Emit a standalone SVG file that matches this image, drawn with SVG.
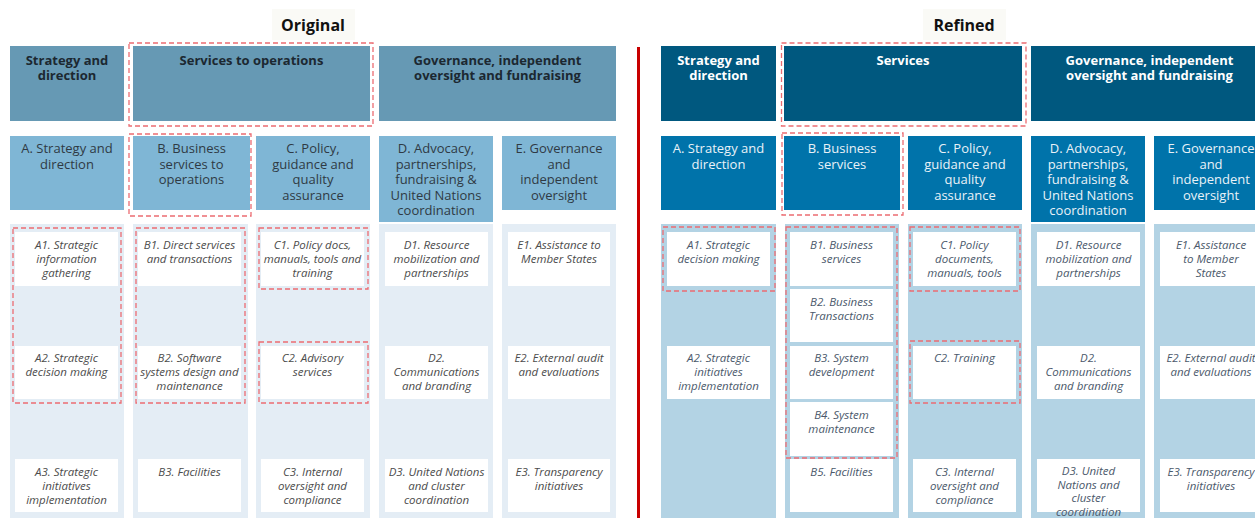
<svg xmlns="http://www.w3.org/2000/svg" width="1255" height="518" viewBox="0 0 1255 518">
<style>
text{font-family:"Open Sans","Noto Sans","Liberation Sans",sans-serif;text-anchor:middle}
.title{font-size:16px;font-weight:bold;fill:#111}
.hdrO{fill:#6699b4}
.rowO{fill:#7fb6d5}
.colO{fill:#e4edf5}
.hdrR{fill:#00587f}
.rowR{fill:#0073aa}
.colR{fill:#b3d3e4}
.item{fill:#ffffff}
.th{font-size:13px;font-weight:bold}
.thO{fill:#1c2831}
.thR{fill:#ffffff}
.tr{font-size:13px}
.trO{fill:#2f3a44}
.trR{fill:#e9f2f8}
.ti{font-size:11.5px;font-style:italic}
.tiO{fill:#4c4c4c}
.tiR{fill:#4b596b}
.dash{fill:none;stroke:#ec6c72;stroke-width:1.3;stroke-dasharray:5 3}
</style>
<rect width="1255" height="518" fill="#ffffff"/>
<g id="titles">
<rect x="272" y="9" width="83" height="31" fill="#fafaf6"/>
<text class="title" x="313" y="31">Original</text>
<rect x="923" y="9" width="83" height="31" fill="#fafaf6"/>
<text class="title" x="964" y="31">Refined</text>
</g>
<g id="divider"><rect x="637" y="47" width="3" height="471" fill="#c80000"/></g>

<!-- ORIGINAL -->
<g id="o-hdr-strategy"><rect class="hdrO" x="10" y="46" width="114" height="75"/><text class="th thO" x="67" y="65">Strategy and<tspan x="67" dy="15">direction</tspan></text></g>
<g id="o-hdr-services"><rect class="hdrO" x="133" y="46" width="237" height="75"/><text class="th thO" x="251.5" y="65">Services to operations</text></g>
<g id="o-hdr-gov"><rect class="hdrO" x="379" y="46" width="237" height="75"/><text class="th thO" x="497.5" y="65">Governance, independent<tspan x="497.5" dy="15">oversight and fundraising</tspan></text></g>

<g id="o-A"><rect class="rowO" x="10" y="136" width="114" height="74"/><text class="tr trO" x="67" y="153">A. Strategy and<tspan x="67" dy="15.5">direction</tspan></text></g>
<g id="o-B"><rect class="rowO" x="133" y="136" width="117" height="74"/><text class="tr trO" x="191.5" y="153">B. Business<tspan x="191.5" dy="15.5">services to</tspan><tspan x="191.5" dy="15.5">operations</tspan></text></g>
<g id="o-C"><rect class="rowO" x="256" y="136" width="114" height="74"/><text class="tr trO" x="313" y="153">C. Policy,<tspan x="313" dy="15.5">guidance and</tspan><tspan x="313" dy="15.5">quality</tspan><tspan x="313" dy="15.5">assurance</tspan></text></g>
<g id="o-D"><rect class="rowO" x="379" y="136" width="114" height="86"/><text class="tr trO" x="436" y="153">D. Advocacy,<tspan x="436" dy="15.5">partnerships,</tspan><tspan x="436" dy="15.5">fundraising &amp;</tspan><tspan x="436" dy="15.5">United Nations</tspan><tspan x="436" dy="15.5">coordination</tspan></text></g>
<g id="o-E"><rect class="rowO" x="502" y="136" width="114" height="74"/><text class="tr trO" x="559" y="153">E. Governance<tspan x="559" dy="15.5">and</tspan><tspan x="559" dy="15.5">independent</tspan><tspan x="559" dy="15.5">oversight</tspan></text></g>

<g id="o-colA"><rect class="colO" x="10" y="224" width="114" height="294"/>
<rect class="item" x="15" y="232" width="103" height="54"/><text class="ti tiO" x="66.5" y="249">A1. Strategic<tspan x="66.5" dy="14">information</tspan><tspan x="66.5" dy="14">gathering</tspan></text>
<rect class="item" x="15" y="346" width="103" height="53"/><text class="ti tiO" x="66.5" y="362">A2. Strategic<tspan x="66.5" dy="14">decision making</tspan></text>
<rect class="item" x="15" y="459" width="103" height="53"/><text class="ti tiO" x="66.5" y="476">A3. Strategic<tspan x="66.5" dy="14">initiatives</tspan><tspan x="66.5" dy="14">implementation</tspan></text></g>
<g id="o-colB"><rect class="colO" x="133" y="224" width="115" height="294"/>
<rect class="item" x="138" y="232" width="103" height="54"/><text class="ti tiO" x="189.5" y="249">B1. Direct services<tspan x="189.5" dy="14">and transactions</tspan></text>
<rect class="item" x="138" y="346" width="103" height="53"/><text class="ti tiO" x="189.5" y="362">B2. Software<tspan x="189.5" dy="14">systems design and</tspan><tspan x="189.5" dy="14">maintenance</tspan></text>
<rect class="item" x="138" y="459" width="103" height="53"/><text class="ti tiO" x="189.5" y="476">B3. Facilities</text></g>
<g id="o-colC"><rect class="colO" x="256" y="224" width="114" height="294"/>
<rect class="item" x="261" y="232" width="103" height="54"/><text class="ti tiO" x="312.5" y="249">C1. Policy docs,<tspan x="312.5" dy="14">manuals, tools and</tspan><tspan x="312.5" dy="14">training</tspan></text>
<rect class="item" x="261" y="346" width="103" height="53"/><text class="ti tiO" x="312.5" y="362">C2. Advisory<tspan x="312.5" dy="14">services</tspan></text>
<rect class="item" x="261" y="459" width="103" height="53"/><text class="ti tiO" x="312.5" y="476">C3. Internal<tspan x="312.5" dy="14">oversight and</tspan><tspan x="312.5" dy="14">compliance</tspan></text></g>
<g id="o-colD"><rect class="colO" x="379" y="224" width="114" height="294"/>
<rect class="item" x="385" y="232" width="103" height="54"/><text class="ti tiO" x="436.5" y="249">D1. Resource<tspan x="436.5" dy="14">mobilization and</tspan><tspan x="436.5" dy="14">partnerships</tspan></text>
<rect class="item" x="385" y="346" width="103" height="53"/><text class="ti tiO" x="436.5" y="362">D2.<tspan x="436.5" dy="14">Communications</tspan><tspan x="436.5" dy="14">and branding</tspan></text>
<rect class="item" x="385" y="459" width="103" height="53"/><text class="ti tiO" x="436.5" y="476">D3. United Nations<tspan x="436.5" dy="14">and cluster</tspan><tspan x="436.5" dy="14">coordination</tspan></text></g>
<g id="o-colE"><rect class="colO" x="502" y="224" width="114" height="294"/>
<rect class="item" x="508" y="232" width="102" height="54"/><text class="ti tiO" x="559" y="249">E1. Assistance to<tspan x="559" dy="14">Member States</tspan></text>
<rect class="item" x="508" y="346" width="102" height="53"/><text class="ti tiO" x="559" y="362">E2. External audit<tspan x="559" dy="14">and evaluations</tspan></text>
<rect class="item" x="508" y="459" width="102" height="53"/><text class="ti tiO" x="559" y="476">E3. Transparency<tspan x="559" dy="14">initiatives</tspan></text></g>

<!-- REFINED -->
<g id="r-hdr-strategy"><rect class="hdrR" x="661" y="46" width="115" height="75"/><text class="th thR" x="718.5" y="65">Strategy and<tspan x="718.5" dy="15">direction</tspan></text></g>
<g id="r-hdr-services"><rect class="hdrR" x="784" y="46" width="238" height="75"/><text class="th thR" x="903" y="65">Services</text></g>
<g id="r-hdr-gov"><rect class="hdrR" x="1031" y="46" width="237" height="75"/><text class="th thR" x="1149.5" y="65">Governance, independent<tspan x="1149.5" dy="15">oversight and fundraising</tspan></text></g>

<g id="r-A"><rect class="rowR" x="661" y="136" width="115" height="74"/><text class="tr trR" x="718.5" y="153">A. Strategy and<tspan x="718.5" dy="15.5">direction</tspan></text></g>
<g id="r-B"><rect class="rowR" x="784" y="136" width="116" height="74"/><text class="tr trR" x="842" y="153">B. Business<tspan x="842" dy="15.5">services</tspan></text></g>
<g id="r-C"><rect class="rowR" x="908" y="136" width="114" height="74"/><text class="tr trR" x="965" y="153">C. Policy,<tspan x="965" dy="15.5">guidance and</tspan><tspan x="965" dy="15.5">quality</tspan><tspan x="965" dy="15.5">assurance</tspan></text></g>
<g id="r-D"><rect class="rowR" x="1031" y="136" width="114" height="86"/><text class="tr trR" x="1088" y="153">D. Advocacy,<tspan x="1088" dy="15.5">partnerships,</tspan><tspan x="1088" dy="15.5">fundraising &amp;</tspan><tspan x="1088" dy="15.5">United Nations</tspan><tspan x="1088" dy="15.5">coordination</tspan></text></g>
<g id="r-E"><rect class="rowR" x="1154" y="136" width="114" height="74"/><text class="tr trR" x="1211" y="153">E. Governance<tspan x="1211" dy="15.5">and</tspan><tspan x="1211" dy="15.5">independent</tspan><tspan x="1211" dy="15.5">oversight</tspan></text></g>

<g id="r-colA"><rect class="colR" x="661" y="224" width="115" height="294"/>
<rect class="item" x="667" y="232" width="103" height="54"/><text class="ti tiR" x="718.5" y="249">A1. Strategic<tspan x="718.5" dy="14">decision making</tspan></text>
<rect class="item" x="667" y="346" width="103" height="53"/><text class="ti tiR" x="718.5" y="362">A2. Strategic<tspan x="718.5" dy="14">initiatives</tspan><tspan x="718.5" dy="14">implementation</tspan></text></g>
<g id="r-colB"><rect class="colR" x="785" y="224" width="114" height="294"/>
<rect class="item" x="790" y="232" width="103" height="54"/><text class="ti tiR" x="841.5" y="249">B1. Business<tspan x="841.5" dy="14">services</tspan></text>
<rect class="item" x="790" y="289" width="103" height="53"/><text class="ti tiR" x="841.5" y="306">B2. Business<tspan x="841.5" dy="14">Transactions</tspan></text>
<rect class="item" x="790" y="346" width="103" height="53"/><text class="ti tiR" x="841.5" y="362">B3. System<tspan x="841.5" dy="14">development</tspan></text>
<rect class="item" x="790" y="402" width="103" height="54"/><text class="ti tiR" x="841.5" y="419">B4. System<tspan x="841.5" dy="14">maintenance</tspan></text>
<rect class="item" x="790" y="459" width="103" height="53"/><text class="ti tiR" x="841.5" y="476">B5. Facilities</text></g>
<g id="r-colC"><rect class="colR" x="908" y="224" width="114" height="294"/>
<rect class="item" x="913" y="232" width="103" height="54"/><text class="ti tiR" x="964.5" y="249">C1. Policy<tspan x="964.5" dy="14">documents,</tspan><tspan x="964.5" dy="14">manuals, tools</tspan></text>
<rect class="item" x="913" y="346" width="103" height="53"/><text class="ti tiR" x="964.5" y="362">C2. Training</text>
<rect class="item" x="913" y="459" width="103" height="53"/><text class="ti tiR" x="964.5" y="476">C3. Internal<tspan x="964.5" dy="14">oversight and</tspan><tspan x="964.5" dy="14">compliance</tspan></text></g>
<g id="r-colD"><rect class="colR" x="1031" y="224" width="114" height="294"/>
<rect class="item" x="1037" y="232" width="103" height="54"/><text class="ti tiR" x="1088.5" y="249">D1. Resource<tspan x="1088.5" dy="14">mobilization and</tspan><tspan x="1088.5" dy="14">partnerships</tspan></text>
<rect class="item" x="1037" y="346" width="103" height="53"/><text class="ti tiR" x="1088.5" y="362">D2.<tspan x="1088.5" dy="14">Communications</tspan><tspan x="1088.5" dy="14">and branding</tspan></text>
<rect class="item" x="1037" y="459" width="103" height="53"/><text class="ti tiR" x="1088.5" y="475">D3. United<tspan x="1088.5" dy="13.5">Nations and</tspan><tspan x="1088.5" dy="13.5">cluster</tspan><tspan x="1088.5" dy="13.5">coordination</tspan></text></g>
<g id="r-colE"><rect class="colR" x="1154" y="224" width="114" height="294"/>
<rect class="item" x="1160" y="232" width="103" height="54"/><text class="ti tiR" x="1211" y="249">E1. Assistance<tspan x="1211" dy="14">to Member</tspan><tspan x="1211" dy="14">States</tspan></text>
<rect class="item" x="1160" y="346" width="103" height="53"/><text class="ti tiR" x="1211" y="362">E2. External audit<tspan x="1211" dy="14">and evaluations</tspan></text>
<rect class="item" x="1160" y="459" width="103" height="53"/><text class="ti tiR" x="1211" y="476">E3. Transparency<tspan x="1211" dy="14">initiatives</tspan></text></g>

<g id="highlights">
<rect class="dash" x="129" y="43" width="244" height="83"/>
<rect class="dash" x="129" y="134" width="122" height="82"/>
<rect class="dash" x="13" y="228" width="108" height="175"/>
<rect class="dash" x="136" y="228" width="109" height="175"/>
<rect class="dash" x="259" y="228" width="109" height="61"/>
<rect class="dash" x="259" y="342" width="109" height="61"/>
<rect class="dash" x="781.5" y="43" width="244.5" height="83"/>
<rect class="dash" x="782" y="133" width="121" height="82"/>
<rect class="dash" x="663" y="227" width="112" height="64"/>
<rect class="dash" x="786" y="227" width="111" height="231"/>
<rect class="dash" x="910" y="227" width="110" height="64"/>
<rect class="dash" x="910" y="341" width="110" height="62"/>
</g>
</svg>
